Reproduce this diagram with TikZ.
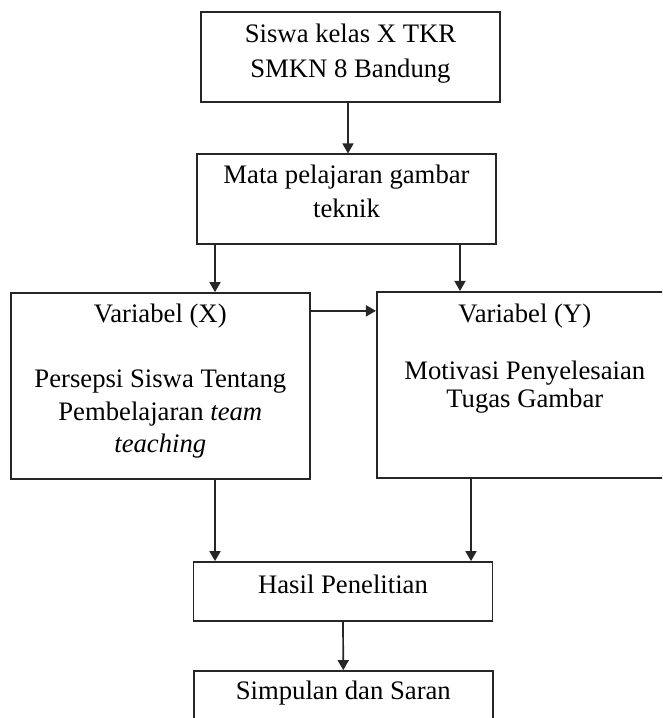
\documentclass[tikz,border=0pt]{standalone}
\usepackage{fontspec}
\setmainfont{Liberation Serif}
\usetikzlibrary{arrows.meta}
\begin{document}
\begin{tikzpicture}[x=1pt,y=-1pt,>={Triangle[length=10pt,width=11pt]},
		kotak/.style={draw=black!85,line width=1.7pt,inner sep=0pt,minimum width=299pt},
		teks/.style={align=center,inner sep=0pt,anchor=north,font=\fontsize{26.7}{33}\selectfont},
		panah/.style={->,draw=black!85,line width=1.7pt}]
		\clip (0,0) rectangle (662,718);
		\node[kotak,minimum height=90pt] (siswa) at (350.5,57) {};
		\node[kotak,minimum height=90pt] (mapel) at (346.5,199.3) {};
		\node[kotak,minimum height=186pt] (varx) at (160.3,386) {};
		\node[kotak,minimum width=296pt,minimum height=186pt] (vary) at (524.8,384.8) {};
		\node[kotak,minimum height=58.7pt] (hasil) at (343,591.3) {};
		\node[kotak,minimum height=58pt] (simpulan) at (343.3,700) {};
		\node[teks,font=\fontsize{26.7}{35.3}\selectfont] (siswa-t) at ([yshift=-12.8pt]siswa.north) {Siswa kelas X TKR\\SMKN 8 Bandung};
		\node[teks,font=\fontsize{26.7}{33.4}\selectfont] (mapel-t) at ([yshift=-11.8pt]mapel.north) {Mata pelajaran gambar\\teknik};
		\node[teks,font=\fontsize{26.7}{32.5}\selectfont] (varx-t) at ([yshift=-11.8pt]varx.north) {Variabel (X)\\~\\Persepsi Siswa Tentang\\Pembelajaran \textit{team}\\\textit{teaching}};
		\node[teks,font=\fontsize{26.7}{28.3}\selectfont] (vary-t) at ([yshift=-13pt]vary.north) {Variabel (Y)\\~\\Motivasi Penyelesaian\\Tugas Gambar};
		\node[teks] (hasil-t) at ([yshift=-14pt]hasil.north) {Hasil Penelitian};
		\node[teks] (simpulan-t) at ([yshift=-11pt]simpulan.north) {Simpulan dan Saran};
		\draw[panah] ([xshift=-2.5pt]siswa.south) -- ([xshift=-2.5pt]siswa.south |- mapel.north);
		\draw[panah] ([xshift=-131.5pt]mapel.south) -- ([xshift=-131.5pt]mapel.south |- varx.north);
		\draw[panah] ([xshift=113.5pt]mapel.south) -- ([xshift=113.5pt]mapel.south |- vary.north);
		\draw[panah] ([yshift=-18.7pt]varx.north east) -- ([yshift=-18.7pt]varx.north east -| vary.west);
		\draw[panah] ([xshift=54.7pt]varx.south) -- ([xshift=54.7pt]varx.south |- hasil.north);
		\draw[panah] ([xshift=-53.8pt]vary.south) -- ([xshift=-53.8pt]vary.south |- hasil.north);
		\draw[panah] (hasil.south) -- (simpulan.north);
	\end{tikzpicture}
\end{document}
